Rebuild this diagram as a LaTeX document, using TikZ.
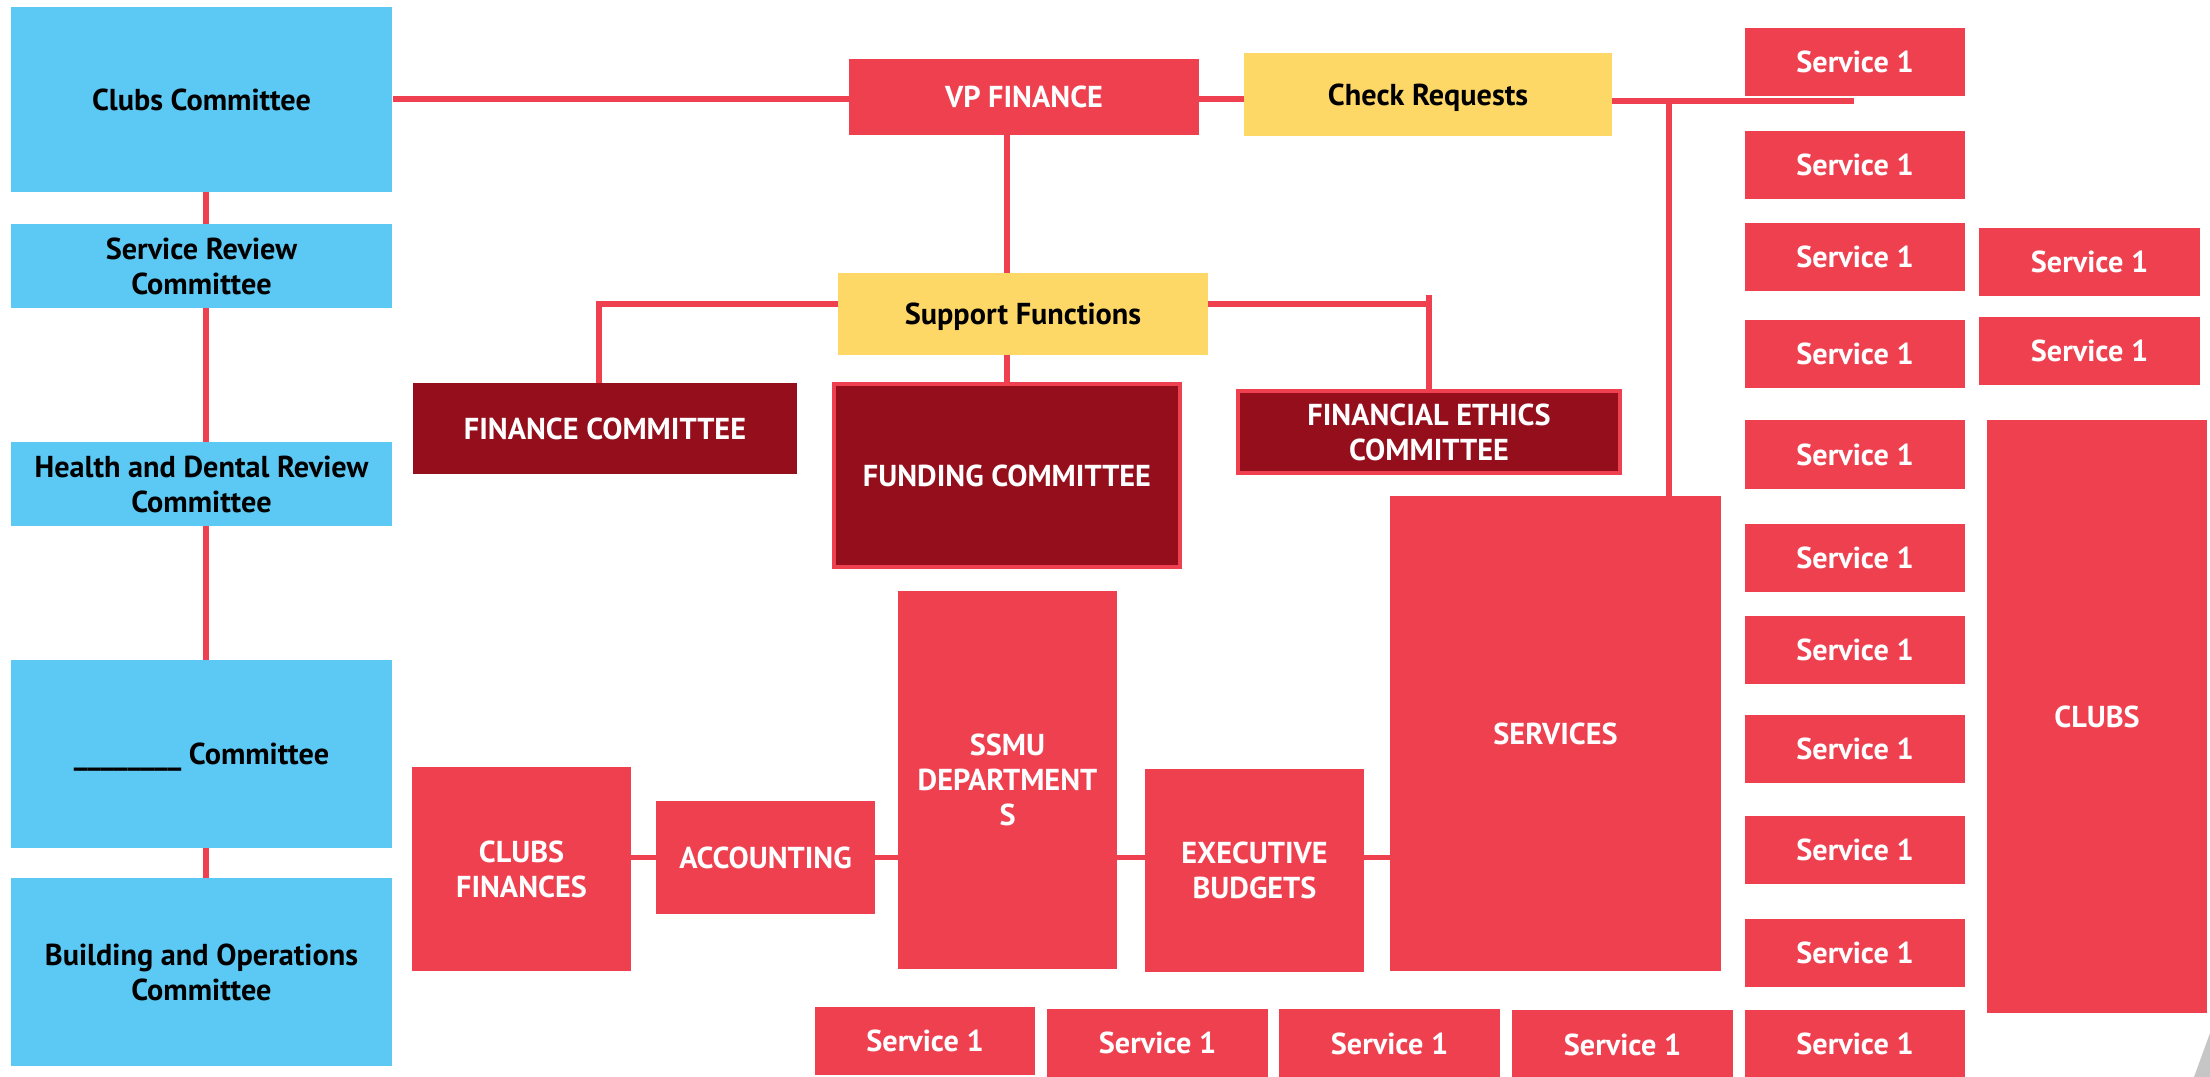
\documentclass[tikz,border=0pt]{standalone}
\usepackage{fontspec}
\setmainfont{PT Sans}
\usetikzlibrary{backgrounds}
\definecolor{ssred}{RGB}{239,64,80}
\definecolor{ssdark}{RGB}{148,14,28}
\definecolor{ssblue}{RGB}{92,201,245}
\definecolor{ssyellow}{RGB}{253,216,102}
\begin{document}
\begin{tikzpicture}[x=0.01cm, y=-0.01cm]
    \tikzstyle{box}=[rectangle, inner sep=0pt, text depth=0pt, align=center, font=\fontsize{8.6}{10}\selectfont\bfseries]
    \tikzstyle{bluebox}=[box, fill=ssblue, text=black, minimum width=3.81cm]
    \tikzstyle{yellowbox}=[box, fill=ssyellow, text=black]
    \tikzstyle{redbox}=[box, fill=ssred, text=white]
    \tikzstyle{darkbox}=[box, fill=ssdark, text=white]
    \tikzstyle{svc}=[redbox, minimum width=2.2cm, minimum height=0.68cm]
    \tikzstyle{link}=[draw=ssred, line width=1.7pt]

    \useasboundingbox (0,0) rectangle (2210,1077);

    % committees
    \node[bluebox, minimum height=1.85cm] (clubsc) at (201.5,99.5) {Clubs Committee};
    \node[bluebox, minimum height=0.84cm] (servrev) at (201.5,266) {Service Review\\Committee};
    \node[bluebox, minimum height=0.84cm] (health) at (201.5,484) {Health and Dental Review\\Committee};
    \node[bluebox, minimum height=1.88cm] (blankc) at (201.5,754) {\_\_\_\_\_\_\_\_ Committee};
    \node[bluebox, minimum height=1.88cm] (building) at (201.5,972) {Building and Operations\\Committee};

    % vp and support
    \node[redbox, minimum width=3.5cm, minimum height=0.76cm] (vp) at (1024,97) {VP FINANCE};
    \node[yellowbox, minimum width=3.68cm, minimum height=0.83cm] (check) at (1428,94.5) {Check Requests};
    \node[yellowbox, minimum width=3.7cm, minimum height=0.82cm] (support) at (1023,314) {Support Functions};
    \node[darkbox, minimum width=3.84cm, minimum height=0.91cm] (finance) at (605,428.5) {FINANCE COMMITTEE};
    \node[darkbox, draw=ssred, line width=1pt, minimum width=3.46cm, minimum height=1.83cm] (funding) at (1007,475.5) {FUNDING COMMITTEE};
    \node[darkbox, draw=ssred, line width=1pt, minimum width=3.82cm, minimum height=0.82cm] (ethics) at (1429,432) {FINANCIAL ETHICS\\COMMITTEE};

    % budgets row
    \node[redbox, minimum width=2.19cm, minimum height=2.04cm] (clubsfin) at (521.5,869) {CLUBS\\FINANCES};
    \node[redbox, minimum width=2.19cm, minimum height=1.13cm] (accounting) at (765.5,857.5) {ACCOUNTING};
    \node[redbox, minimum width=2.19cm, minimum height=3.78cm] (ssmu) at (1007.5,780) {SSMU\\DEPARTMENT\\S};
    \node[redbox, minimum width=2.19cm, minimum height=2.03cm] (execb) at (1254.5,870.5) {EXECUTIVE\\BUDGETS};
    \node[redbox, minimum width=3.31cm, minimum height=4.75cm] (services) at (1555.5,733.5) {SERVICES};
    \node[redbox, minimum width=2.2cm, minimum height=5.93cm] (clubs) at (2097,716.5) {CLUBS};

    % services
    \foreach \y [count=\i] in {62,165,257,354,454.5,558,650,749,850,953,1044}
        \node[svc] (sa\i) at (1855,\y) {Service 1};
    \foreach \y [count=\i] in {262,351}
        \node[svc] (sb\i) at (2089.5,\y) {Service 1};
    \foreach \x/\y [count=\i] in {925/1041,1157.5/1043,1389.5/1043.5,1622.5/1044.5}
        \node[svc] (sc\i) at (\x,\y) {Service 1};

    \coordinate (reqend) at (1854,101);
    \coordinate (tap) at (1669,101);
    \coordinate (branch) at (1007,304);
    \coordinate (tick) at (1429,295);

    \begin{scope}[on background layer]
        \draw[link] ([xshift=0.045cm]clubsc.center) -- ([xshift=0.045cm]building.center);
        \draw[link] (clubsc) -- (clubsc -| check);
        \draw[link] (check |- reqend) -- (reqend);
        \draw[link] (tap) -- (tap |- services);
        \draw[link] (vp -| funding) -- (funding);
        \draw[link] ([xshift=-0.06cm]finance.center) |- (ethics |- branch);
        \draw[link] (tick) -- (ethics);
        \draw[link] (clubsfin |- accounting) -- (accounting -| services);
    \end{scope}

    \fill[gray!45] (2210,1033) -- (2210,1077) -- (2194,1077) -- cycle;
\end{tikzpicture}
\end{document}
